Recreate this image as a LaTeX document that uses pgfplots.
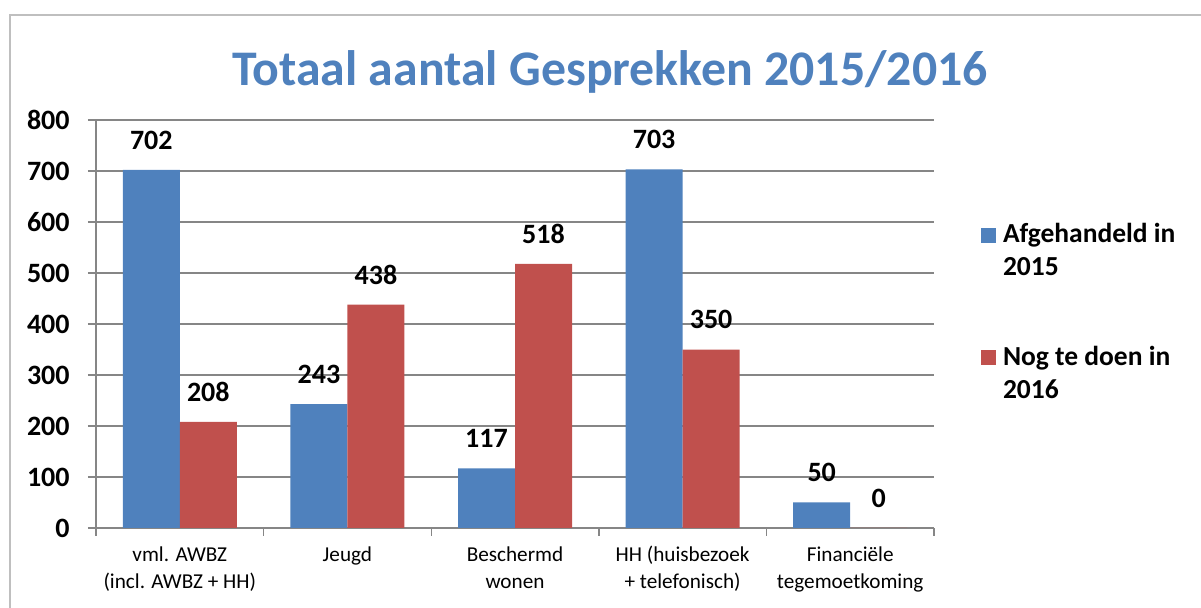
\documentclass[border=0pt]{standalone}
\usepackage{pgfplots}
\pgfplotsset{compat=1.18}
\usepackage{fontspec}
\setmainfont{Carlito}
\definecolor{cblue}{HTML}{4F81BD}
\definecolor{cred}{HTML}{C0504D}
\definecolor{cgrid}{HTML}{868686}
\definecolor{cframe}{HTML}{BFBFBF}
\begin{document}
\begin{tikzpicture}
\path[use as bounding box] (0,0) rectangle (600.5pt,-304pt);
\draw[cframe, line width=1pt] (5pt,-330pt) -- (5pt,-7.5pt) -- (630pt,-7.5pt);
\begin{axis}[
  at={(48pt,-264pt)}, anchor=south west,
  scale only axis, width=419pt, height=204pt,
  xmin=-0.5, xmax=4.5, ymin=0, ymax=800,
  /pgf/number format/assume math mode=true,
  ytick={0,100,...,800},
  xtick={-0.5,0.5,1.5,2.5,3.5,4.5}, xticklabels={},
  extra x ticks={0,1,2,3,4},
  extra x tick labels={{vml. AWBZ\\(incl. AWBZ + HH)},{Jeugd},{Beschermd\\wonen},{HH (huisbezoek\\+ telefonisch)},{Financiële\\tegemoetkoming}},
  extra x tick style={major tick length=0pt},
  axis x line*=bottom, axis y line*=left,
  axis line style={-, draw=cgrid, line width=0.7pt},
  tick style={draw=cgrid, line width=0.7pt},
  tick align=outside, major tick length=4pt,
  ymajorgrids, grid style={draw=cgrid, line width=0.7pt},
  yticklabel style={font=\bfseries\fontsize{14pt}{16pt}\selectfont, anchor=east, inner sep=0pt, xshift=-9pt},
  xticklabel style={font=\fontsize{10.6pt}{13.5pt}\selectfont, align=center, anchor=north, inner sep=0pt, yshift=-9pt},
  title={Totaal aantal Gesprekken 2015/2016},
  every axis title shift=0pt,
  title style={font=\bfseries\fontsize{24.9pt}{30pt}\selectfont, text=cblue, at={(0.6134,1.0858)}, anchor=base, yshift=0pt},
  ybar=0pt, bar width=28.5pt,
  nodes near coords,
  every node near coord/.append style={font=\bfseries\fontsize{14pt}{16pt}\selectfont, anchor=center, yshift=15pt, text=black},
  legend style={at={(1.0561,0.7552)}, anchor=north west, draw=none, fill=none, inner sep=0pt, outer sep=0pt, row sep=48pt, column sep=3.5pt, font=\bfseries\fontsize{13.75pt}{16.5pt}\selectfont, cells={anchor=base west}, nodes={inner sep=0pt}},
  legend image code/.code={\fill[#1] (0pt,0pt) rectangle (7.5pt,7.5pt);},
]
\addplot[fill=cblue, draw=none] coordinates {(0,702) (1,243) (2,117) (3,703) (4,50)};
\addlegendentry{\begin{tabular}[t]{@{}l@{}}Afgehandeld in\\2015\end{tabular}}
\addplot[fill=cred, draw=none] coordinates {(0,208) (1,438) (2,518) (3,350) (4,0)};
\addlegendentry{\begin{tabular}[t]{@{}l@{}}Nog te doen in\\2016\end{tabular}}
\end{axis}
\end{tikzpicture}
\end{document}
